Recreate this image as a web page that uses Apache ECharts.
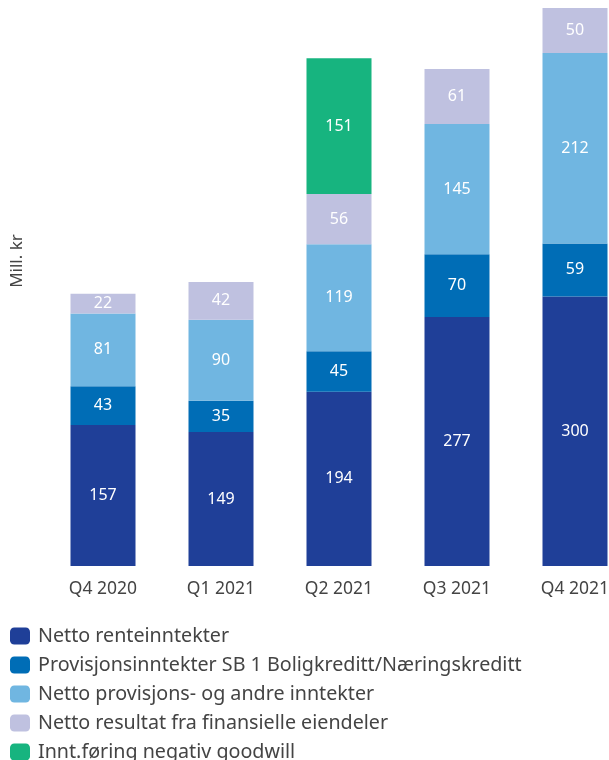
<!DOCTYPE html>
<html>
<head>
<meta charset="utf-8">
<script src="https://cdn.jsdelivr.net/npm/echarts@6/dist/echarts.min.js"></script>
<style>
	html, body { margin: 0; padding: 0; background: #fff; overflow: hidden; }
	#chart { width: 640px; height: 760px; }
</style>
</head>
<body>
<div id="chart"></div>
<script>
// data
const kvartaler = ['Q4 2020', 'Q1 2021', 'Q2 2021', 'Q3 2021', 'Q4 2021']
const renteinntekter = [157, 149, 194, 277, 300]
const boligkreditt = [43, 35, 45, 70, 59]
const provisjoner = [81, 90, 119, 145, 212]
const finansielle = [22, 42, 56, 61, 50]
const goodwill = ['-', '-', 151, '-', '-']

const serieNavn = [
	'Netto renteinntekter',
	'Provisjonsinntekter SB 1 Boligkreditt/Næringskreditt',
	'Netto provisjons- og andre inntekter',
	'Netto resultat fra finansielle eiendeler',
	'Innt.føring negativ goodwill'
]
const farger = ['#1f3f98', '#006db6', '#70b6e1', '#bfc1e0', '#17b47f']

const font = 'Noto Sans'

function lagSerie(idx, data) {
	return {
		name: serieNavn[idx],
		type: 'bar',
		stack: 'total',
		barWidth: 65,
		data: data,
		itemStyle: { color: farger[idx] },
		label: {
			show: true,
			position: 'inside',
			color: '#fff',
			fontFamily: font,
			fontSize: 16
		},
		emphasis: { disabled: true }
	}
}

const myChart = echarts.init(document.getElementById('chart'))

// the last bar is cut by the right edge in the original, so the canvas is
// a bit wider than the window and the grid runs past it
myChart.setOption({
	animation: false,
	textStyle: { fontFamily: font },
	grid: { left: 44, top: 8, width: 590, bottom: 194 },
	legend: {
		orient: 'vertical',
		left: 5,
		top: 621,
		height: 200,
		icon: 'roundRect',
		itemWidth: 20,
		itemHeight: 17,
		itemGap: 9,
		textStyle: { fontFamily: font, fontSize: 19.7, color: '#444', padding: [0, 0, 0, 3] },
		data: serieNavn
	},
	graphic: [{
		type: 'text',
		x: 17,
		y: 261,
		rotation: Math.PI / 2,
		style: {
			text: 'Mill. kr',
			fill: '#444',
			fontFamily: font,
			fontSize: 17,
			align: 'center',
			verticalAlign: 'middle'
		}
	}],
	xAxis: {
		type: 'category',
		data: kvartaler,
		axisLine: { show: false },
		axisTick: { show: false },
		axisLabel: { color: '#444', fontSize: 17.5, margin: 14, fontFamily: font }
	},
	yAxis: {
		type: 'value',
		min: 0,
		max: 621,
		axisLabel: { show: false },
		axisLine: { show: false },
		axisTick: { show: false },
		splitLine: { show: false }
	},
	series: [
		lagSerie(0, renteinntekter),
		lagSerie(1, boligkreditt),
		lagSerie(2, provisjoner),
		lagSerie(3, finansielle),
		lagSerie(4, goodwill)
	]
})
</script>
</body>
</html>
